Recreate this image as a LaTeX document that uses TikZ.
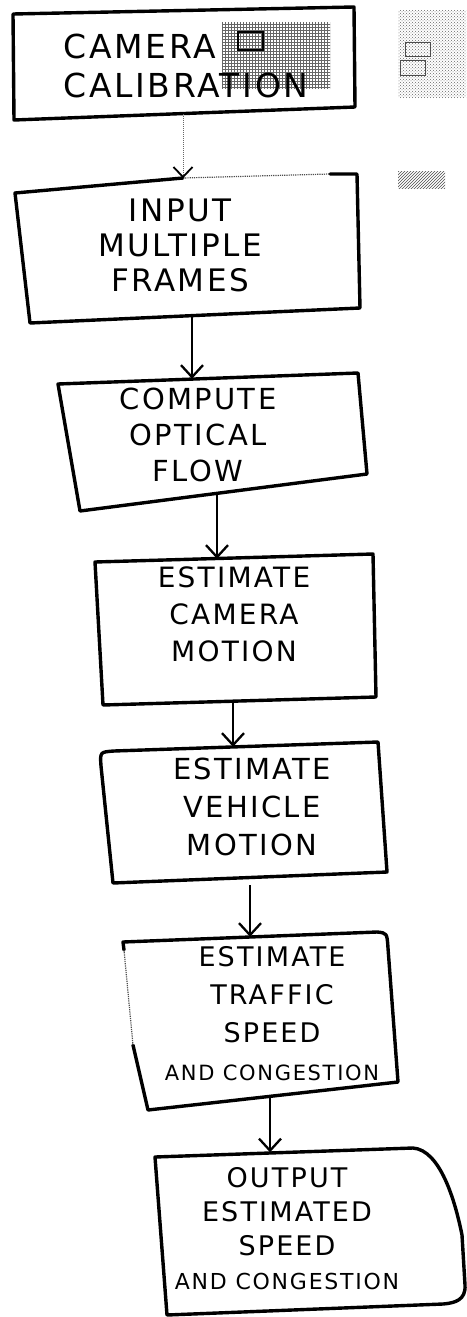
\documentclass[tikz,border=0pt]{standalone}
\usepackage{fontspec}
\newfontfamily\hand[LetterSpace=8]{DejaVu Sans}
\usetikzlibrary{arrows.meta,patterns}

\tikzset{
  stepbox/.style={rectangle, inner sep=0pt, minimum width=4pt},
  steptext/.style={align=center, inner sep=0pt},
  boxline/.style={line width=3.4pt, line join=round, line cap=round},
  faintline/.style={line width=1.2pt, densely dotted, black!70},
  arr/.style={line width=2.3pt, -{Straight Barb[length=12pt, width=22pt]}},
}

\begin{document}
\begin{tikzpicture}[x=1pt,y=-1pt]
\useasboundingbox (0,0) rectangle (466,1317);

% scanner marks
\fill[pattern=grid, pattern color=black!60] (222,22) rectangle (330,88);
\draw[line width=1.4pt] (238,32) rectangle (263,50);
\fill[pattern=crosshatch dots, pattern color=black!60] (398,10) rectangle (466,97);
\draw[line width=1pt, black!70] (405,42) rectangle (430,56);
\draw[line width=1pt, black!70] (400,60) rectangle (425,75);
\fill[pattern=north east lines, pattern color=black!70] (398,171) rectangle (445,188);

% boxes (hand drawn outlines)
\draw[boxline] (13,14) -- (354,7) -- (355,107) -- (14,120) -- cycle;
\draw[boxline] (183,178) -- (15,193) -- (30,323) -- (360,308) -- (357,174) -- (330,174);
\draw[faintline] (183,178) -- (330,174);
\draw[boxline] (58,384) -- (358,373) -- (367,474) -- (80,511) -- cycle;
\draw[boxline] (95,562) -- (373,554) -- (376,697) -- (103,705) -- cycle;
\draw[boxline] (113,883) -- (101,766) .. controls (100,752) .. (114,751) -- (378,742) -- (387,872) -- cycle;
\draw[boxline] (133,1045) -- (148,1110) -- (398,1082) -- (388,948) .. controls (387,933) .. (377,932) -- (123,942) -- (124,950);
\draw[faintline] (124,950) -- (133,1045);
\draw[boxline] (155,1157) -- (413,1148) .. controls (440,1150) and (455,1200) .. (462,1235)
  -- (465,1285) .. controls (466,1300) and (455,1303) .. (443,1304) -- (167,1315) -- cycle;

% nodes
\node[stepbox, minimum height=104pt] (calib) at (183,62) {};
\node[stepbox, minimum height=137pt] (input) at (192,247) {};
\node[stepbox, minimum height=114pt] (flow) at (217,436) {};
\node[stepbox, minimum height=142pt] (cammot) at (233,630) {};
\node[stepbox, minimum height=130pt] (vehmot) at (250,812) {};
\node[stepbox, minimum height=159pt] (traffic) at (270,1016.5) {};
\node[stepbox, minimum height=157pt] (output) at (285,1231) {};

\node[steptext, align=left, font=\hand\fontsize{33}{39}\selectfont] (calibtext) at (186,66) {CAMERA\\CALIBRATION};
\node[steptext, font=\hand\fontsize{31}{35}\selectfont] (inputtext) at (180,245) {INPUT\\MULTIPLE\\FRAMES};
\node[steptext, font=\hand\fontsize{29}{36}\selectfont] (flowtext) at (198,435) {COMPUTE\\OPTICAL\\FLOW};
\node[steptext, font=\hand\fontsize{28}{37}\selectfont] (cammottext) at (234,614) {ESTIMATE\\CAMERA\\MOTION};
\node[steptext, font=\hand\fontsize{29}{38}\selectfont] (vehmottext) at (252,807) {ESTIMATE\\VEHICLE\\MOTION};
\node[steptext, font=\hand\fontsize{27}{38}\selectfont] (traffictext) at (272,1014) {ESTIMATE\\TRAFFIC\\SPEED\\{\fontsize{21}{38}\selectfont AND CONGESTION}};
\node[steptext, font=\hand\fontsize{27}{34}\selectfont] (outputtext) at (287,1229) {OUTPUT\\ESTIMATED\\SPEED\\{\fontsize{22}{34}\selectfont AND CONGESTION}};

% arrows
\draw[line width=1pt, black!60, densely dotted, -{Straight Barb[length=10pt, width=19pt, black, line width=1.8pt]}] (calib.south) -- (calib.south |- input.north);
\draw[arr] (input.south) -- (input.south |- flow.north);
\draw[arr] (flow.south) -- (flow.south |- cammot.north);
\draw[arr] (cammot.south) -- (cammot.south |- vehmot.north);
\draw[arr, shorten <=8pt] (vehmot.south) -- (vehmot.south |- traffic.north);
\draw[arr] (traffic.south) -- (traffic.south |- output.north);
\end{tikzpicture}
\end{document}
